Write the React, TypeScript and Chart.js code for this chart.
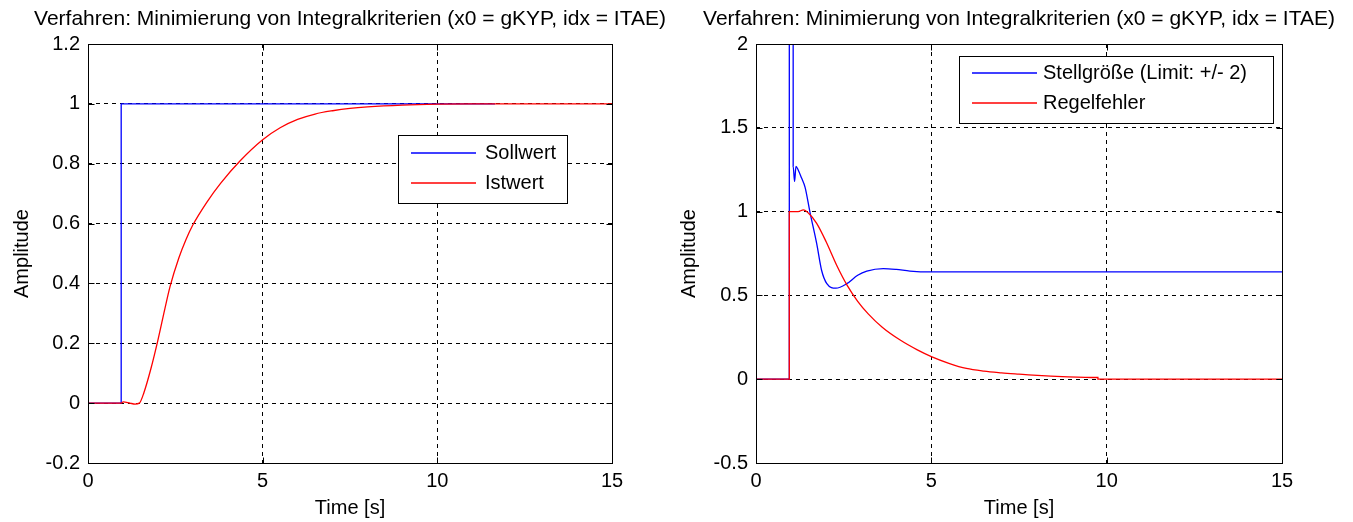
import React, { useEffect, useRef } from 'react';
import { Chart, registerables } from 'chart.js';

Chart.register(...registerables);

const FONT = "'Liberation Sans', Arial, sans-serif";

const TITLE = 'Verfahren: Minimierung von Integralkriterien (x0 = gKYP, idx = ITAE)';
const X_LABEL = 'Time [s]';
const Y_LABEL = 'Amplitude';

const xTicks = [0, 5, 10, 15];
const xTickLabels = ['0', '5', '10', '15'];
const leftYTicks = [-0.2, 0, 0.2, 0.4, 0.6, 0.8, 1, 1.2];
const leftYTickLabels = ['-0.2', '0', '0.2', '0.4', '0.6', '0.8', '1', '1.2'];
const rightYTicks = [-0.5, 0, 0.5, 1, 1.5, 2];
const rightYTickLabels = ['-0.5', '0', '0.5', '1', '1.5', '2'];

// Left panel: Sollwert / Istwert
const sollwertT = [0, 0.95, 0.95, 11.65];
const sollwertY = [0, 0, 1, 1];
const istwertT = [0, 0.95, 1.01, 1.2, 1.35, 1.47, 1.6, 1.8, 2.0, 2.2, 2.35, 2.6, 2.8, 3.0, 3.4, 3.8, 4.35, 5.0, 5.5, 6.0, 6.5, 7.0, 7.5, 8.0, 9.0, 10.0, 11.0, 15];
const istwertY = [0, 0, 0.004, 0, -0.003, 0, 0.035, 0.115, 0.21, 0.315, 0.39, 0.485, 0.545, 0.595, 0.671, 0.735, 0.809, 0.88, 0.92, 0.948, 0.966, 0.977, 0.985, 0.99, 0.996, 0.999, 1, 1];

// Right panel: Stellgröße / Regelfehler
const stellT = [0, 0.95, 0.95, 1.06, 1.06, 1.1, 1.14, 1.2, 1.3, 1.4, 1.54, 1.73, 1.87, 2.02, 2.28, 2.59, 2.9, 3.16, 3.63, 4.0, 4.39, 5, 15];
const stellY = [0, 0, 2, 2, 1.27, 1.18, 1.27, 1.25, 1.2, 1.145, 0.996, 0.81, 0.65, 0.57, 0.543, 0.57, 0.62, 0.645, 0.66, 0.655, 0.645, 0.64, 0.64];
const fehlerT = [0, 0.95, 0.95, 1.2, 1.35, 1.5, 1.73, 2.0, 2.3, 2.6, 2.9, 3.2, 3.6, 4.1, 4.6, 5.0, 5.5, 6.0, 6.5, 7.0, 7.5, 7.9, 8.9, 9.75, 9.75, 15];
const fehlerY = [0, 0, 1, 1.0, 1.01, 0.99, 0.93, 0.82, 0.68, 0.56, 0.465, 0.39, 0.31, 0.235, 0.175, 0.135, 0.095, 0.064, 0.048, 0.038, 0.03, 0.024, 0.014, 0.01, 0, 0];

const BLUE = '#0000ff';
const RED = '#ff0000';

const toPoints = (t: number[], y: number[]) => t.map((x, i) => ({ x, y: y[i] }));

type LegendBox = { x: number; y: number; w: number; h: number; lx1: number; lx2: number; tx: number; rows: number[] };

function makeFramePlugin(lg: LegendBox, labels: string[], colors: string[]) {
  return {
    id: 'matlabFrame',
    afterDatasetsDraw(chart: any) {
      const { ctx, chartArea: a, scales } = chart;
      ctx.save();
      ctx.strokeStyle = '#000';
      ctx.lineWidth = 1;
      ctx.setLineDash([]);
      const L = Math.round(a.left) + 0.5;
      const R = Math.round(a.right) + 0.5;
      const T = Math.round(a.top) + 0.5;
      const B = Math.round(a.bottom) + 0.5;
      ctx.strokeRect(L, T, R - L, B - T);
      const tl = 6;
      ctx.beginPath();
      scales.x.ticks.forEach((t: any) => {
        const px = Math.round(scales.x.getPixelForValue(t.value)) + 0.5;
        ctx.moveTo(px, B); ctx.lineTo(px, B - tl);
        ctx.moveTo(px, T); ctx.lineTo(px, T + tl);
      });
      scales.y.ticks.forEach((t: any) => {
        const py = Math.round(scales.y.getPixelForValue(t.value)) + 0.5;
        ctx.moveTo(L, py); ctx.lineTo(L + tl, py);
        ctx.moveTo(R, py); ctx.lineTo(R - tl, py);
      });
      ctx.stroke();

      // title, centred over the axes
      ctx.fillStyle = '#000';
      ctx.font = `21px ${FONT}`;
      ctx.textAlign = 'center';
      ctx.textBaseline = 'middle';
      ctx.fillText(TITLE, (a.left + a.right) / 2, 19);

      // legend box
      ctx.fillStyle = '#ffffff';
      ctx.fillRect(lg.x, lg.y, lg.w, lg.h);
      ctx.strokeStyle = '#000';
      ctx.lineWidth = 1;
      ctx.strokeRect(lg.x + 0.5, lg.y + 0.5, lg.w, lg.h);
      ctx.font = `20px ${FONT}`;
      ctx.textBaseline = 'middle';
      ctx.textAlign = 'left';
      for (let i = 0; i < labels.length; i++) {
        const ry = lg.rows[i];
        ctx.strokeStyle = colors[i];
        ctx.lineWidth = 1.6;
        ctx.beginPath();
        ctx.moveTo(lg.lx1, ry);
        ctx.lineTo(lg.lx2, ry);
        ctx.stroke();
        ctx.fillStyle = '#000';
        ctx.fillText(labels[i], lg.tx, ry + 0.5);
      }
      ctx.restore();
    },
  };
}

type PanelProps = {
  width: number;
  left: number;
  padRight: number;
  yWidth: number;
  yTitlePad: number;
  yMin: number;
  yMax: number;
  yTicks: number[];
  yTickLabels: string[];
  labels: string[];
  colors: string[];
  series: { t: number[]; y: number[] }[];
  legend: LegendBox;
};

function Panel(p: PanelProps) {
  const ref = useRef<HTMLCanvasElement | null>(null);
  useEffect(() => {
    if (!ref.current) return;
    const datasets = p.series.map((s, i) => ({
      label: p.labels[i],
      data: toPoints(s.t, s.y),
      borderColor: p.colors[i],
      backgroundColor: p.colors[i],
      borderWidth: 1.3,
      pointRadius: 0,
      fill: false,
      cubicInterpolationMode: 'monotone',
      order: p.series.length - 1 - i,
    }));
    const chart = new Chart(ref.current, {
      type: 'line',
      data: { datasets },
      plugins: [makeFramePlugin(p.legend, p.labels, p.colors)],
      options: {
        animation: false,
        responsive: false,
        maintainAspectRatio: false,
        layout: { padding: { left: 0, right: p.padRight, top: 44, bottom: 0 } },
        elements: { point: { radius: 0 } },
        plugins: {
          legend: { display: false },
          tooltip: { enabled: false },
          title: { display: false },
        },
        scales: {
          x: {
            type: 'linear',
            min: 0,
            max: 15,
            afterBuildTicks: (s: any) => { s.ticks = xTicks.map((v) => ({ value: v })); },
            afterFit: (s: any) => { s.height = 59; },
            ticks: {
              color: '#000',
              padding: 6,
              maxRotation: 0,
              font: { family: FONT, size: 20 },
              callback: (v: any) => xTickLabels[xTicks.indexOf(Number(v))],
            },
            grid: { color: '#000', lineWidth: 1, drawTicks: false },
            border: { display: false, dash: [4, 4] },
            title: {
              display: true,
              text: X_LABEL,
              color: '#000',
              font: { family: FONT, size: 20, lineHeight: 1.2 },
              padding: { top: 0, bottom: 2 },
            },
          },
          y: {
            type: 'linear',
            min: p.yMin,
            max: p.yMax,
            afterBuildTicks: (s: any) => { s.ticks = p.yTicks.map((v) => ({ value: v })); },
            afterFit: (s: any) => { s.width = p.yWidth; },
            ticks: {
              color: '#000',
              padding: 8,
              font: { family: FONT, size: 20 },
              callback: (v: any) => p.yTickLabels[p.yTicks.indexOf(Number(v))],
            },
            grid: { color: '#000', lineWidth: 1, drawTicks: false },
            border: { display: false, dash: [4, 4] },
            title: {
              display: true,
              text: Y_LABEL,
              color: '#000',
              font: { family: FONT, size: 20, lineHeight: 1.2 },
              padding: { top: p.yTitlePad, bottom: 0 },
            },
          },
        },
      } as any,
    });
    return () => chart.destroy();
  }, []);
  return (
    <canvas
      ref={ref}
      width={p.width}
      height={522}
      style={{ position: 'absolute', left: p.left, top: 0, width: p.width, height: 522 }}
    />
  );
}

export default function App() {
  return (
    <div style={{ position: 'absolute', left: 0, top: 0, width: 1353, height: 522, background: '#fff' }}>
      <Panel
        width={676}
        left={0}
        padRight={64}
        yWidth={88}
        yTitlePad={10}
        yMin={-0.2}
        yMax={1.2}
        yTicks={leftYTicks}
        yTickLabels={leftYTickLabels}
        labels={['Sollwert', 'Istwert']}
        colors={[BLUE, RED]}
        series={[{ t: sollwertT, y: sollwertY }, { t: istwertT, y: istwertY }]}
        legend={{ x: 398, y: 135, w: 169, h: 68, lx1: 411, lx2: 476, tx: 485, rows: [153, 183] }}
      />
      <Panel
        width={677}
        left={676}
        padRight={71}
        yWidth={80}
        yTitlePad={1}
        yMin={-0.5}
        yMax={2}
        yTicks={rightYTicks}
        yTickLabels={rightYTickLabels}
        labels={['Stellgröße (Limit: +/- 2)', 'Regelfehler']}
        colors={[BLUE, RED]}
        series={[{ t: stellT, y: stellY }, { t: fehlerT, y: fehlerY }]}
        legend={{ x: 283, y: 56, w: 314, h: 67, lx1: 296, lx2: 361, tx: 367, rows: [73, 103] }}
      />
    </div>
  );
}
